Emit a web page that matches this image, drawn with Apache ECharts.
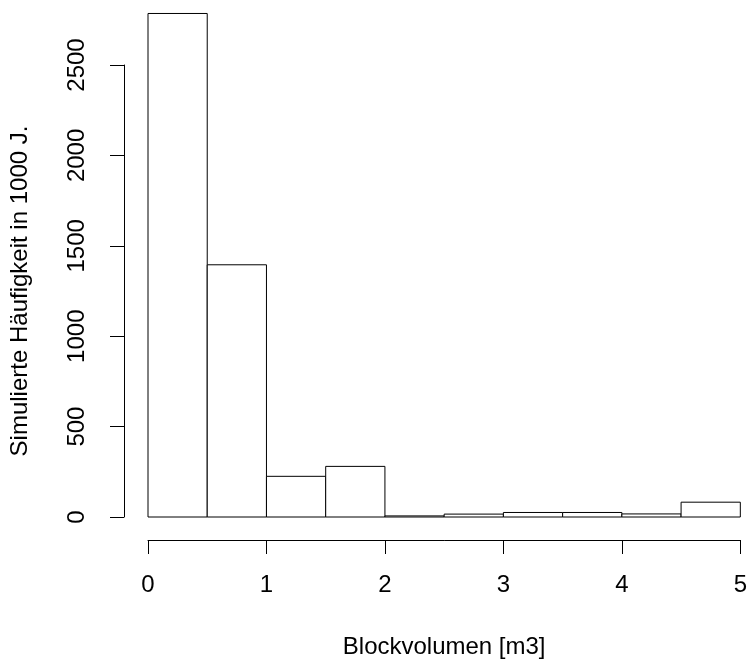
<!DOCTYPE html>
<html>
<head>
<meta charset="utf-8">
<script src="https://cdn.jsdelivr.net/npm/echarts@6/dist/echarts.min.js"></script>
<style>
  html, body { margin: 0; padding: 0; background: #fff; }
  #chart { width: 750px; height: 664px; }
</style>
</head>
<body>
<div id="chart"></div>
<script>
// histogram bins (m3) and simulated counts
const binStarts = [0, 0.5, 1, 1.5, 2, 2.5, 3, 3.5, 4, 4.5]
const binEnds = [0.5, 1, 1.5, 2, 2.5, 3, 3.5, 4, 4.5, 5]
const counts = [2785, 1395, 225, 280, 6, 16, 25, 25, 17, 82]
const xTicks = [0, 1, 2, 3, 4, 5]
const yTicks = [0, 500, 1000, 1500, 2000, 2500]

const font = 'Liberation Sans, Arial, sans-serif'
const fs = 24

const histData = binStarts.map((s, i) => [s, binEnds[i], counts[i]])

var myChart = echarts.init(document.getElementById('chart'))

myChart.setOption({
  animation: false,
  backgroundColor: '#fff',
  grid: {
    left: 148,
    right: 5,
    top: 65,
    bottom: 141
  },
  xAxis: {
    type: 'value',
    min: xTicks[0],
    max: xTicks[xTicks.length - 1],
    interval: 1,
    offset: 23,
    name: 'Blockvolumen [m3]',
    nameLocation: 'middle',
    nameGap: 95,
    nameTextStyle: { color: '#000', fontSize: fs, fontFamily: font },
    axisLine: { onZero: false, lineStyle: { color: '#000', width: 1 } },
    axisTick: { length: 14, lineStyle: { color: '#000' } },
    axisLabel: { color: '#000', fontSize: fs, fontFamily: font, margin: 33 },
    splitLine: { show: false }
  },
  yAxis: {
    type: 'value',
    min: yTicks[0],
    max: yTicks[yTicks.length - 1],
    interval: 500,
    offset: 24,
    name: 'Simulierte Häufigkeit in 1000 J.',
    nameLocation: 'middle',
    nameGap: 92,
    nameTextStyle: { color: '#000', fontSize: fs, fontFamily: font },
    axisLine: { show: true, onZero: false, lineStyle: { color: '#000', width: 1 } },
    axisTick: { show: true, length: 14, lineStyle: { color: '#000' } },
    axisLabel: {
      color: '#000', fontSize: fs, fontFamily: font, rotate: 90, margin: 35,
      formatter: v => String(v)
    },
    splitLine: { show: false }
  },
  series: [
    {
      type: 'custom',
      clip: false,
      data: histData,
      encode: { x: [0, 1], y: 2 },
      renderItem: function (params, api) {
        const p0 = api.coord([api.value(0), 0])
        const p1 = api.coord([api.value(1), api.value(2)])
        return {
          type: 'rect',
          shape: {
            x: p0[0],
            y: p1[1],
            width: p1[0] - p0[0],
            height: p0[1] - p1[1]
          },
          style: { fill: '#fff', stroke: '#000', lineWidth: 1 }
        }
      }
    }
  ]
})
</script>
</body>
</html>
